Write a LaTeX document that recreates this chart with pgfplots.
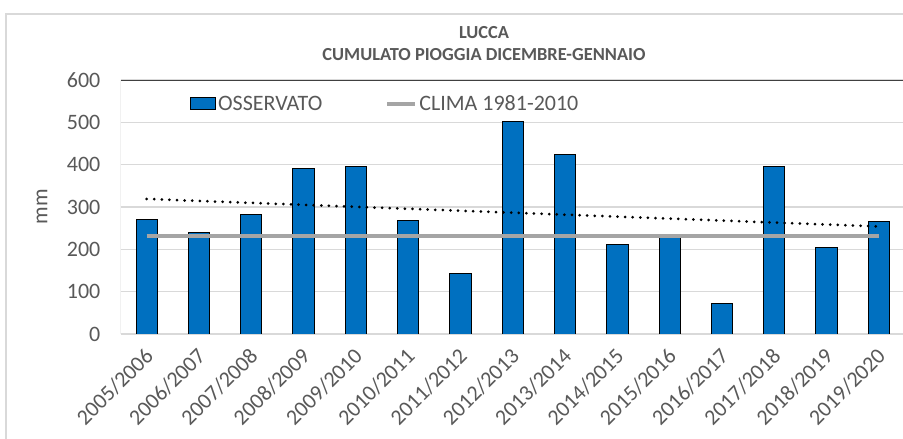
\documentclass[border=0pt]{standalone}
\usepackage{fontspec}
\setmainfont{Carlito}
\usepackage{pgfplots}
\pgfplotsset{compat=1.18}
\definecolor{txt}{HTML}{595959}
\definecolor{gridc}{HTML}{D9D9D9}
\definecolor{barc}{HTML}{0070C0}
\definecolor{clima}{HTML}{A5A5A5}
\definecolor{topline}{HTML}{404040}
\begin{document}
\begin{tikzpicture}[x=1pt,y=1pt]
\useasboundingbox (0,0) rectangle (903,439);
\fill[white] (0,0) rectangle (903,439);
\draw[gridc, line width=1.2pt] (6,0) -- (6,425) -- (903,425);
\node[text=txt, font=\fontsize{18.4}{22}\selectfont\bfseries] at (484,406) {LUCCA};
\node[text=txt, font=\fontsize{18.4}{22}\selectfont\bfseries] at (484,384) {CUMULATO PIOGGIA DICEMBRE-GENNAIO};
\begin{axis}[
  at={(120.5pt,105pt)}, anchor=south west,
  scale only axis, width=784.5pt, height=254pt,
  xmin=-0.5, xmax=14.5, ymin=0, ymax=600,
  ytick={0,100,...,600},
  xtick={0,...,14},
  xticklabels={2005/2006,2006/2007,2007/2008,2008/2009,2009/2010,2010/2011,2011/2012,2012/2013,2013/2014,2014/2015,2015/2016,2016/2017,2017/2018,2018/2019,2019/2020},
  axis line style={draw=none},
  major tick length=0pt,
  ymajorgrids, grid style={gridc, line width=1.2pt},
  /pgf/number format/assume math mode=true,
  tick label style={text=txt, font=\fontsize{22}{26}\selectfont},
  yticklabel style={inner sep=0pt, xshift=-20pt},
  xticklabel style={rotate=45, anchor=east, inner sep=0pt, xshift=4pt},
  xticklabel shift=21pt,
  ylabel={mm},
  ylabel style={text=txt, font=\fontsize{22}{26}\selectfont, at={(axis description cs:-0.1,0.5)}, anchor=center},
  legend style={at={(0.0886,0.906)}, anchor=west, draw=none, fill=none, inner sep=0pt,
    legend columns=2, font=\fontsize{22}{26}\selectfont, text=txt,
    /tikz/every even column/.append style={column sep=61pt}},
  legend cell align=left,
]
\addplot[ybar, bar width=21.3pt, fill=barc, draw=black, line width=0.9pt,
  legend image code/.code={\draw[fill=barc, draw=black, line width=0.9pt] (0pt,-6pt) rectangle (25pt,6pt);}]
  coordinates {(0,271)(1,239)(2,283)(3,390)(4,396)(5,269)(6,144)(7,502)(8,425)(9,212)(10,227)(11,71)(12,396)(13,204)(14,265)};
\addlegendentry{OSSERVATO}
\addplot[clima, line width=4pt, mark=none,
  legend image code/.code={\draw[clima, line width=4pt] (0pt,0pt) -- (28pt,0pt);}]
  coordinates {(0,231)(1,231)(2,231)(3,231)(4,231)(5,231)(6,231)(7,231)(8,231)(9,231)(10,231)(11,231)(12,231)(13,231)(14,231)};
\addlegendentry{CLIMA 1981-2010}
\addplot[black, line width=3pt, line cap=round, dash pattern=on 0pt off 7.6pt, mark=none, forget plot]
  coordinates {(0,319)(14,254)};
\draw[topline, line width=1.5pt] (rel axis cs:0,1) -- (rel axis cs:1,1);
\draw[gridc, line width=1.2pt] (rel axis cs:0,0) -- (rel axis cs:0,1);
\end{axis}
\end{tikzpicture}
\end{document}
